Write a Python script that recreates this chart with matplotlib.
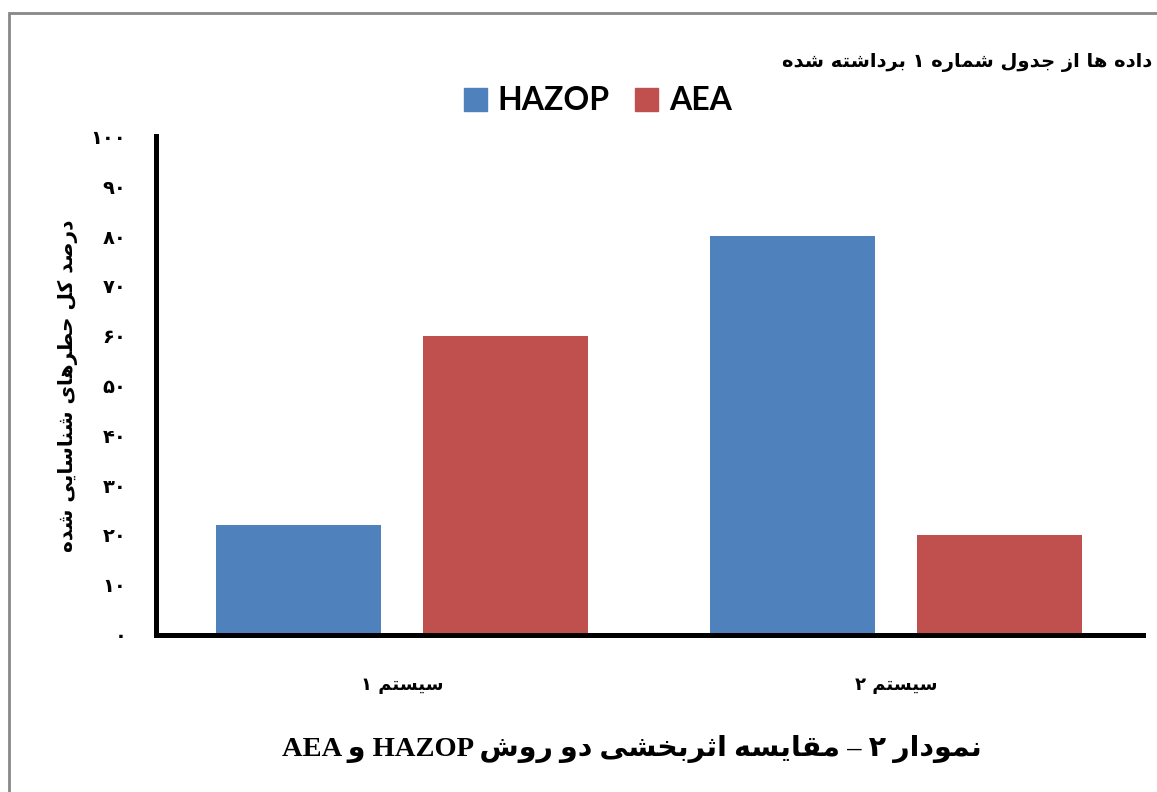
import re
import matplotlib
matplotlib.use("Agg")
import matplotlib.pyplot as plt
from matplotlib.patches import Rectangle, Patch

# ---- data ----
categories = ["سیستم ۱", "سیستم ۲"]
hazop = [22, 80]
aea = [60, 20]
series_names = ["HAZOP", "AEA"]
yticks = [0, 10, 20, 30, 40, 50, 60, 70, 80, 90, 100]
ylabel = "درصد کل حطرهای شناسایی شده"
note = "داده ها از جدول شماره ۱ برداشته شده"
title = "نمودار ۲ – مقایسه اثربخشی دو روش HAZOP و AEA"

blue = "#4F81BD"
red = "#C0504D"

# ---- minimal persian shaping (matplotlib has no bidi/shaping) ----
# isolated, final, initial, medial
FORMS = {
    "ا": ("\ufe8d", "\ufe8e", None, None),
    "د": ("\ufea9", "\ufeaa", None, None),
    "ر": ("\ufead", "\ufeae", None, None),
    "ز": ("\ufeaf", "\ufeb0", None, None),
    "و": ("\ufeed", "\ufeee", None, None),
    "ب": ("\ufe8f", "\ufe90", "\ufe91", "\ufe92"),
    "ت": ("\ufe95", "\ufe96", "\ufe97", "\ufe98"),
    "ث": ("\ufe99", "\ufe9a", "\ufe9b", "\ufe9c"),
    "ج": ("\ufe9d", "\ufe9e", "\ufe9f", "\ufea0"),
    "ح": ("\ufea1", "\ufea2", "\ufea3", "\ufea4"),
    "خ": ("\ufea5", "\ufea6", "\ufea7", "\ufea8"),
    "س": ("\ufeb1", "\ufeb2", "\ufeb3", "\ufeb4"),
    "ش": ("\ufeb5", "\ufeb6", "\ufeb7", "\ufeb8"),
    "ص": ("\ufeb9", "\ufeba", "\ufebb", "\ufebc"),
    "ط": ("\ufec1", "\ufec2", "\ufec3", "\ufec4"),
    "ق": ("\ufed5", "\ufed6", "\ufed7", "\ufed8"),
    "ک": ("\ufb8e", "\ufb8f", "\ufb90", "\ufb91"),
    "ل": ("\ufedd", "\ufede", "\ufedf", "\ufee0"),
    "م": ("\ufee1", "\ufee2", "\ufee3", "\ufee4"),
    "ن": ("\ufee5", "\ufee6", "\ufee7", "\ufee8"),
    "ه": ("\ufee9", "\ufeea", "\ufeeb", "\ufeec"),
    "ی": ("\ufbfc", "\ufbfd", "\ufbfe", "\ufbff"),
}


def fa(text):
    out = []
    for i, ch in enumerate(text):
        if ch not in FORMS:
            out.append(ch)
            continue
        prev = text[i - 1] if i > 0 else ""
        nxt = text[i + 1] if i + 1 < len(text) else ""
        iso, fin, ini, med = FORMS[ch]
        jp = prev in FORMS and FORMS[prev][2] is not None
        jn = nxt in FORMS and ini is not None
        if jp and jn:
            out.append(med)
        elif jp:
            out.append(fin)
        elif jn:
            out.append(ini)
        else:
            out.append(iso)
    shaped = "".join(out)
    # visual order: reverse, but keep latin / digit runs left-to-right
    tokens = re.findall(r"[A-Za-z0-9\u06f0-\u06f9]+|.", shaped)
    return "".join(tokens[::-1])


def fa_num(v):
    return str(v).translate(str.maketrans("0123456789", "۰۱۲۳۴۵۶۷۸۹"))


fig = plt.figure(figsize=(11.57, 7.92), dpi=100)
ax = fig.add_axes([155.5 / 1157, 1 - 634.5 / 792, (1143 - 155.5) / 1157, (634.5 - 136.5) / 792])

w = 0.334
off = 0.2095
x = list(range(len(categories)))
ax.bar([i - off for i in x], hazop, w, color=blue, label=series_names[0])
ax.bar([i + off for i in x], aea, w, color=red, label=series_names[1])

ax.set_xlim(-0.5, 1.5)
ax.set_ylim(0, 100)
for s in ["top", "right"]:
    ax.spines[s].set_visible(False)
for s in ["left", "bottom"]:
    ax.spines[s].set_linewidth(3.6)
    ax.spines[s].set_color("black")
    ax.spines[s].set_capstyle("projecting")

ax.set_yticks(yticks)
ax.set_yticklabels([fa_num(v) for v in yticks], fontsize=14, fontweight="bold",
                   family="DejaVu Sans")
ax.set_xticks(x)
ax.set_xticklabels([fa(c) for c in categories], fontsize=13, fontweight="bold",
                   family="DejaVu Sans")
ax.tick_params(axis="y", length=0, pad=21)
ax.tick_params(axis="x", length=0, pad=30)
ax.set_ylabel(fa(ylabel), fontsize=14.5, fontweight="bold", family="DejaVu Sans",
              labelpad=9)

handles = [Patch(color=blue), Patch(color=red)]
fig.legend(handles, series_names, loc="center", bbox_to_anchor=(598 / 1157, 1 - 101 / 792),
           ncol=2, frameon=False, prop={"family": "Lato", "weight": "bold", "size": 23},
           handlelength=0.72, handleheight=0.72, handletextpad=0.35, columnspacing=0.8)

fig.text(1152 / 1157, 1 - 62 / 792, fa(note), ha="right", va="center",
         fontsize=14, fontweight="bold", family="DejaVu Sans")
fig.text(632 / 1157, 1 - 749 / 792, fa(title), ha="center", va="center",
         fontsize=20.5, fontweight="bold", family=["Liberation Serif", "DejaVu Sans"])

# outer chart frame (only top/left fall inside the picture)
fig.patches.append(Rectangle((8.5 / 1157, -0.5), 2, 0.5 + (1 - 13 / 792),
                             transform=fig.transFigure, fill=False,
                             edgecolor="#888888", linewidth=2))

fig.savefig("out.png", dpi=100)
